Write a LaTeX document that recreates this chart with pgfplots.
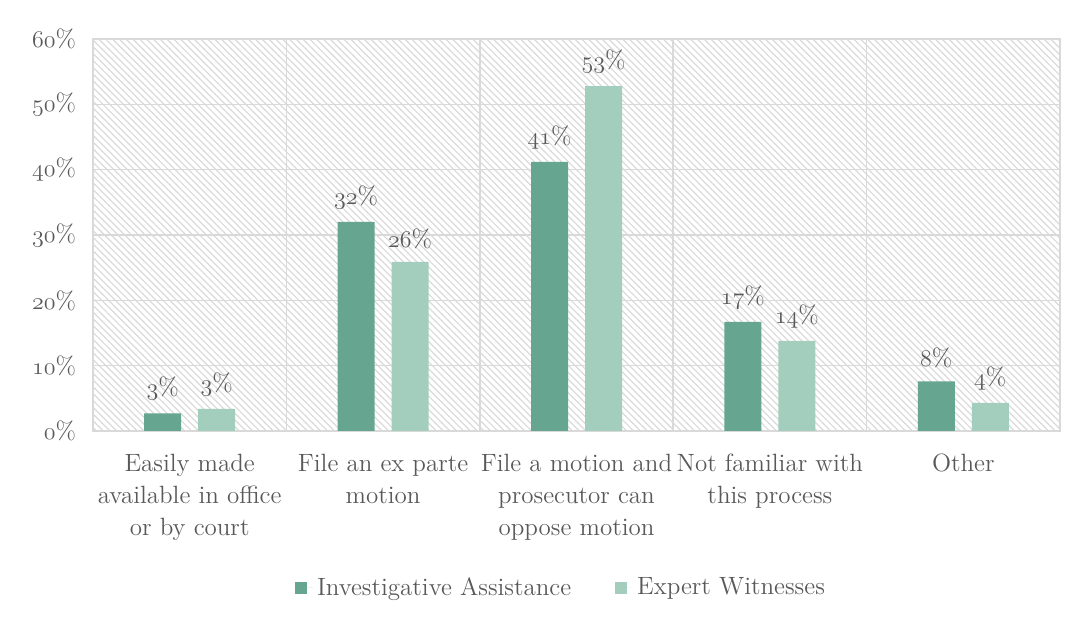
\documentclass[border=0pt]{standalone}
\usepackage{pgfplots}
\pgfplotsset{compat=1.18}
\usetikzlibrary{patterns}
\definecolor{dk}{HTML}{66A690}
\definecolor{lt}{HTML}{A3CEBD}
\definecolor{txt}{HTML}{595959}
\definecolor{grd}{HTML}{D9D9D9}
\pgfdeclarepatternformonly{hatch}{\pgfqpoint{-1pt}{-1pt}}{\pgfqpoint{4.5pt}{4.5pt}}{\pgfqpoint{3.4pt}{3.4pt}}{%
  \pgfsetlinewidth{0.6pt}%
  \pgfpathmoveto{\pgfqpoint{-0.1pt}{3.5pt}}%
  \pgfpathlineto{\pgfqpoint{3.5pt}{-0.1pt}}%
  \pgfusepath{stroke}}
\newcommand\os[1]{\ensuremath{\oldstylenums{#1}}}
\newcommand\lbl{\fontsize{12.5}{16}\selectfont}
\begin{document}
\begin{tikzpicture}
\begin{axis}[
  name=ax,
  scale only axis,
  width=483.5pt, height=196pt,
  ymin=0, ymax=60, xmin=-0.5, xmax=4.5,
  ybar=8.5pt, bar width=18.5pt,
  ytick={0,10,...,60},
  yticklabels={\os{0}\%,\os{10}\%,\os{20}\%,\os{30}\%,\os{40}\%,\os{50}\%,\os{60}\%},
  xtick={0,...,4},
  xticklabels={{Easily made\\available in office\\or by court},{File an ex parte\\motion},{File a motion and\\prosecutor can\\oppose motion},{Not familiar with\\this process},{Other}},
  minor xtick={0.5,1.5,2.5,3.5},
  ymajorgrids, xminorgrids,
  grid style={grd, line width=0.8pt},
  axis line style={grd, line width=0.8pt},
  major tick length=0pt, minor tick length=0pt,
  tick label style={txt, font=\lbl},
  xticklabel style={align=center, yshift=-8pt},
  yticklabel style={xshift=-5pt},
  axis background/.style={pattern=hatch, pattern color=black!14},
  point meta=explicit symbolic,
  nodes near coords,
  every node near coord/.append style={txt, font=\lbl, yshift=3pt},
  legend style={at={(0.485,-0.40)}, anchor=center, legend columns=2, draw=none, fill=none, font=\lbl, text=txt,
    /tikz/every even column/.append style={column sep=20pt}},
  legend image code/.code={\path (0pt,0pt) -- (9pt,0pt); \fill[#1] (0pt,-3pt) rectangle (6pt,3pt);},
]
\addplot[fill=dk, draw=none] coordinates {
 (0,2.7) [{\os{3}\%}]
 (1,32.0) [{\os{32}\%}]
 (2,41.2) [{\os{41}\%}]
 (3,16.7) [{\os{17}\%}]
 (4,7.6) [{\os{8}\%}]
};
\addplot[fill=lt, draw=none] coordinates {
 (0,3.4) [{\os{3}\%}]
 (1,25.9) [{\os{26}\%}]
 (2,52.8) [{\os{53}\%}]
 (3,13.8) [{\os{14}\%}]
 (4,4.3) [{\os{4}\%}]
};
\legend{Investigative Assistance, Expert Witnesses}
\end{axis}
\path ([shift={(-46.5pt,-98pt)}]ax.south west) rectangle ([shift={(9pt,19.5pt)}]ax.north east);
\end{tikzpicture}
\end{document}
